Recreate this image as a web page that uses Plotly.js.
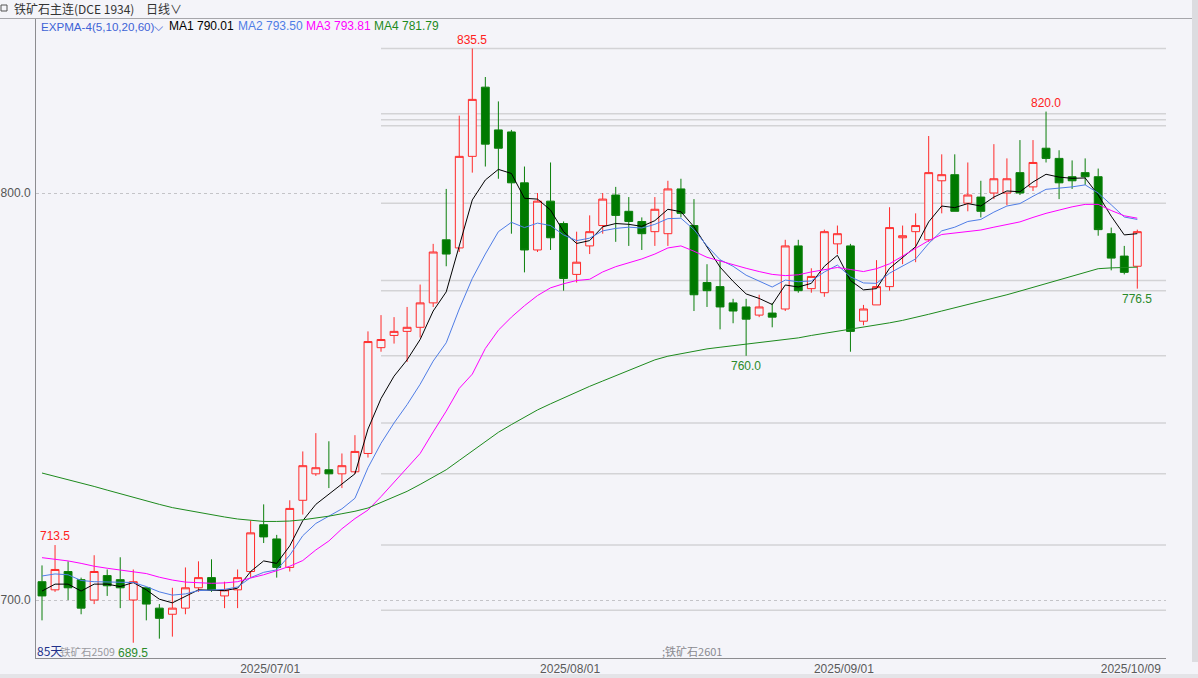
<!DOCTYPE html>
<html><head><meta charset="utf-8">
<script src="https://cdn.plot.ly/plotly-3.0.1.min.js"></script>
<style>html,body{margin:0;padding:0;background:#f4f4f9;}#chart{width:1198px;height:678px;}</style>
</head><body><div id="chart"></div>
<script>
// ---------- data ----------
const dates = [
 '2025-06-05','2025-06-06','2025-06-09','2025-06-10','2025-06-11','2025-06-12','2025-06-13','2025-06-16','2025-06-17','2025-06-18',
 '2025-06-19','2025-06-20','2025-06-23','2025-06-24','2025-06-25','2025-06-26','2025-06-27','2025-06-30',
 '2025-07-01','2025-07-02','2025-07-03','2025-07-04','2025-07-07','2025-07-08','2025-07-09','2025-07-10','2025-07-11',
 '2025-07-14','2025-07-15','2025-07-16','2025-07-17','2025-07-18','2025-07-21','2025-07-22','2025-07-23','2025-07-24','2025-07-25',
 '2025-07-28','2025-07-29','2025-07-30','2025-07-31',
 '2025-08-01','2025-08-04','2025-08-05','2025-08-06','2025-08-07','2025-08-08','2025-08-11','2025-08-12','2025-08-13','2025-08-14','2025-08-15',
 '2025-08-18','2025-08-19','2025-08-20','2025-08-21','2025-08-22','2025-08-25','2025-08-26','2025-08-27','2025-08-28','2025-08-29',
 '2025-09-01','2025-09-02','2025-09-03','2025-09-04','2025-09-05','2025-09-08','2025-09-09','2025-09-10','2025-09-11','2025-09-12',
 '2025-09-15','2025-09-16','2025-09-17','2025-09-18','2025-09-19','2025-09-22','2025-09-23','2025-09-24','2025-09-25','2025-09-26',
 '2025-09-29','2025-09-30','2025-10-09'];

const open = [704.5,702.5,707,705,700,706,705,700,703,698, 696.5,698,703,705.5,701,702.5,707,718.5,
 715,708,724.5,731,732,731,731.5,736,762, 765,766,767,773,788.5,786.5,809,826,815.5,815, 802.5,786,798,792.5,
 780,787,792,799.5,795.5,793,790.5,790,801,792, 778,777,773,772,770,770.5,771.5,787,776.5,775.5, 787.5,
 787,768.5,772.5,777,789,790.5,788.5,803,804.5,797.5, 799,800,800,805,801.5,811,808.5,804,805,804, 790,784.5,782];
const high = [708.5,713.5,709.5,705.5,711,707.5,710.5,707.5,703,699, 703,708,709.5,710,704.5,707.5,719.5,723.5,
 716,724.5,736.5,741,739,736,740.5,766,770, 769.5,772,777.5,787.5,801,819,835.5,828.5,822.5,815.5, 806.5,800,807.5,793,
 790.5,794.5,800,801.5,799,794,799,803,803.5,798.5, 782.5,783.5,774,774,775,773,788.5,788.5,781.5,791, 792,
 787.5,772.5,783.5,796.5,792,795,814,809.5,809.5,807.5, 803,812,808.5,813,813,820,810.5,808,808.5,806, 791.5,787,791];
const low = [695,702,700,696.5,699,701,698,689.5,695,690.5, 691,696.5,702,702,698,698,705.5,714,
 705.5,707,721,730.5,727.5,727.5,731,735,761, 763,758.5,764.5,772,782,785.5,805,806.5,803.5,790, 780.5,785.5,786,776,
 778,785,790,788,787,786,787,787,794,771, 772,766.5,768,760,769.5,767,771,775.5,775.5,774.5, 785,
 761,767.5,772.5,776,782.5,783,788,795,795.5,795.5, 794,798.5,797,799.5,800.5,807.5,798.5,801,802,789.5, 781,780,776.5];
const close = [701,707.5,703,698,707,703.5,703,704.5,699,695.5, 698,703,705.5,702.5,702.5,705.5,716.5,715.5,
 708,722.5,733,732.5,731,733,736.5,763.5,764, 766,767,773,785.5,785,809,823,812,811,802.5, 786,798,789,779,
 783,790.5,798.5,794.5,793,790,796,801,795,775, 776,772,771,769,772,769.5,787,776,779.5,790.5, 790,
 766,771.5,777,791.5,789.5,792,805,804.5,795.5,799.5, 795.5,803.5,803.5,800,807.5,808.5,802.5,803,804,791, 784,780.5,790.5];

// EXPMA lines
const ma1 = [702.2,703.9,703.9,702.2,703.9,703.9,703.3,704.3,702.5,700.2, 699.3,700.8,702.5,702.4,702.3,702.9,707.0,709.6,
 709.0,713.3,719.5,723.5,726.0,728.3,731.0,742.0,749.5, 755.0,759.0,764.0,771.0,775.7,787.0,798.3,803.2,805.8,804.8,
 798.7,798.5,795.8,790.5, 787.6,788.3,791.7,792.5,792.3,791.8,793.2,796.0,795.4,791.7, 786.8,781.8,778.3,775.2,774.1,
 772.6,777.4,776.9,777.8,782.0, 784.7,778.5,776.2,776.5,781.5,784.2,786.8,792.9,796.8,796.4, 797.4,796.8,799.0,800.5,
 800.3,802.7,804.6,803.9,803.6,803.7, 799.5,794.3,789.7,790.01];
const ma2 = [705.9,706.4,706.2,704.8,704.5,704.4,704.3,704.3,703.3,702.0, 701.2,701.5,702.3,702.5,702.6,703.2,705.5,706.8,
 707.4,711.0,715.8,718.8,720.6,722.4,725.0,732.5,738.5, 743.5,748.0,753.0,758.7,763.2,771.5,779.0,785.0,790.5,792.8,
 791.5,792.6,792.0,789.7, 788.3,788.9,790.7,791.3,791.6,791.4,792.3,793.7,793.8,791.0, 787.0,783.6,782.0,779.8,778.4,
 776.9,778.6,778.2,778.4,780.6, 782.3,779.4,777.9,777.8,780.3,782.0,783.8,787.6,790.7,791.6, 793.0,793.5,795.3,796.8,
 797.4,799.2,800.9,801.2,801.5,802.0, 800.0,797.1,794.1,793.50];
const ma3 = [710.4,710.0,709.6,709.0,708.3,707.8,707.4,707.0,706.5,705.6, 704.9,704.4,704.2,704.1,704.2,704.5,705.4,706.2,
 707.2,708.3,709.7,712.3,714.5,717.5,720.0,722.1,725.4, 728.9,732.6,736.0,741.3,746.4,752.0,755.5,761.8,766.3,769.5,
 772.3,774.8,776.7,777.7, 778.5,778.8,780.6,781.9,782.9,783.8,785.0,786.5,787.0,785.7, 784.2,783.3,782.3,781.5,780.7,
 780.0,779.7,779.9,780.6,781.2, 781.7,781.2,780.7,781.4,782.6,784.5,786.5,788.3,789.8,790.2, 790.6,790.9,791.6,792.2,
 792.9,794.0,795.0,795.8,796.6,797.2, 797.2,795.7,794.4,793.81];
const ma4 = [731.2,730.4,729.5,728.7,727.9,727.0,726.1,725.3,724.4,723.5, 722.7,722.1,721.5,721.0,720.4,719.9,719.6,719.3,
 719.3,719.4,719.7,720.1,720.6,721.2,721.8,722.6,724.0, 725.3,726.7,728.4,730.2,732.0,734.3,736.6,738.9,741.2,743.1,
 744.9,746.7,748.2,749.7, 751.1,752.5,753.8,755.1,756.4,757.7,759.0,759.9,760.5,761.2, 761.7,762.1,762.5,762.9,763.3,
 763.7,764.1,764.4,765.0,765.5, 766.0,766.5,767.0,767.6,768.1,768.7,769.4,770.2,771.0,771.8, 772.6,773.4,774.1,775.0,
 775.9,776.8,777.7,778.6,779.6,780.5, 781.4,781.6,781.7,781.79];

const tickDates  = ['2025-07-01','2025-08-01','2025-09-01','2025-10-09'];
const tickLabels = ['2025/07/01','2025/08/01','2025/09/01','2025/10/09'];
const levels = [835.5, 819.5, 818, 816.5, 797.5, 778.5, 776, 760, 743.5, 731, 713.5, 697.5];
const levelStart = '2025-07-11';
const markDates  = ['2025-07-22','2025-09-22','2025-06-06','2025-06-16','2025-08-20','2025-10-09'];
const markValues = [835.5, 820.0, 713.5, 689.5, 760.0, 776.5];
const markIsHigh = [true, true, true, false, false, false];
const maNames  = ['MA1','MA2','MA3','MA4'];
const maColors = ['#000000','#4f7de6','#ff00ff','#1d8a1d'];

// ---------- layout helpers (pixel -> paper) ----------
const L=36, R=1166, T=19, B=658;
const px = x => (x - L) / (R - L);
const py = y => (B - y) / (B - T);
const BG = '#f4f4f9';
const FONT = 'Liberation Sans, Arial, Noto Sans CJK SC, sans-serif';

const traces = [{
  type: 'candlestick', x: dates, open: open, high: high, low: low, close: close,
  increasing: {line: {color: '#ff2b2b', width: 1}, fillcolor: BG},
  decreasing: {line: {color: '#0b7f0b', width: 1}, fillcolor: '#007a00'},
  whiskerwidth: 0, hoverinfo: 'skip', showlegend: false
}];
[ma1, ma2, ma3, ma4].forEach((s, k) => traces.push({
  type: 'scatter', mode: 'lines', x: dates, y: s,
  line: {color: maColors[k], width: 1}, hoverinfo: 'skip', showlegend: false
}));

const shapes = [];
const startIdx = dates.indexOf(levelStart);
levels.forEach(v => shapes.push({type: 'line', xref: 'x', yref: 'y', x0: startIdx, x1: dates.length + 5,
  y0: v, y1: v, line: {color: '#d3d3d6', width: 1.5}, layer: 'below'}));
// frame pieces
shapes.push({type:'line', xref:'paper', yref:'paper', x0: px(0), x1: px(1198), y0: py(18.5), y1: py(18.5), line:{color:'#a6a6ab', width:1}});
shapes.push({type:'rect', xref:'paper', yref:'paper', x0: px(1192), x1: px(1198), y0: py(0), y1: py(662), fillcolor:'#dcdce0', line:{width:0}});
shapes.push({type:'rect', xref:'paper', yref:'paper', x0: px(0), x1: px(1198), y0: py(674), y1: py(678), fillcolor:'#e4e4e8', line:{width:0}});
shapes.push({type:'rect', xref:'paper', yref:'paper', x0: px(1), x1: px(7), y0: py(5), y1: py(11), fillcolor:'rgba(0,0,0,0)', line:{color:'#555', width:1}});

const ann = [];
const txt = (text, x, y, color, size, xanchor, family) => ann.push({
  text: text, xref: 'paper', yref: 'paper', x: px(x), y: py(y), xanchor: xanchor || 'left', yanchor: 'middle',
  showarrow: false, font: {color: color, size: size || 12, family: family || FONT}});
txt('铁矿石主连(DCE 1934)', 12, 9, '#333', 12, 'left', 'Noto Sans CJK SC, sans-serif');
txt('日线∨', 144, 9, '#333', 12, 'left', 'Noto Sans CJK SC, sans-serif');
txt('EXPMA-4(5,10,20,60)⌵', 39, 26, '#3d63d6', 11.6);
const lastVals = [ma1, ma2, ma3, ma4].map(s => s[s.length - 1].toFixed(2));
const legendX = [167, 236, 304, 372];
maNames.forEach((n, k) => txt(n + ' ' + lastVals[k], legendX[k], 26, maColors[k], 12));
txt('铁矿石2509', 58, 651, '#9a9aa0', 10.5, 'left', 'Noto Sans CJK SC, sans-serif');
txt('85天', 35, 650, '#23318a', 12, 'left', 'Noto Sans CJK SC, sans-serif');
txt(';铁矿石2601', 660, 651, '#8a8a90', 11, 'left', 'Noto Sans CJK SC, sans-serif');

markDates.forEach((d, k) => ann.push({
  text: markValues[k].toFixed(1), xref: 'x', yref: 'y', x: dates.indexOf(d), y: markValues[k],
  xanchor: 'center', yanchor: markIsHigh[k] ? 'bottom' : 'top', yshift: markIsHigh[k] ? 0 : -1,
  showarrow: false, font: {color: markIsHigh[k] ? '#ff2020' : '#2a8a2a', size: 12, family: FONT}}));

const layout = {
  width: 1198, height: 678, paper_bgcolor: BG, plot_bgcolor: BG,
  margin: {l: L, r: 1198 - R, t: T, b: 678 - B, pad: 0},
  font: {family: FONT, size: 12, color: '#555'},
  showlegend: false, dragmode: false, boxgap: 0.14,
  xaxis: {type: 'category', categoryorder: 'array', categoryarray: dates,
    range: [-0.46, 86.2], rangeslider: {visible: false}, showgrid: false, zeroline: false,
    showline: true, linecolor: '#8c8c90', linewidth: 1, ticks: '',
    tickmode: 'array', tickvals: tickDates.map(d => dates.indexOf(d) - 0.5), ticktext: tickLabels,
    tickfont: {size: 12, color: '#5a5a5a'}, fixedrange: true},
  yaxis: {range: [685.75, 842.75], tickmode: 'array', tickvals: [700, 800], ticktext: ['700.0', '800.0'],
    showgrid: true, gridcolor: '#c4c4c8', griddash: 'dot', gridwidth: 1, zeroline: false,
    showline: true, linecolor: '#8c8c90', linewidth: 1, ticks: '', ticklabelstandoff: 2,
    tickfont: {size: 12, color: '#555'}, fixedrange: true},
  shapes: shapes, annotations: ann
};
Plotly.newPlot('chart', traces, layout, {displayModeBar: false, staticPlot: true});
</script></body></html>
